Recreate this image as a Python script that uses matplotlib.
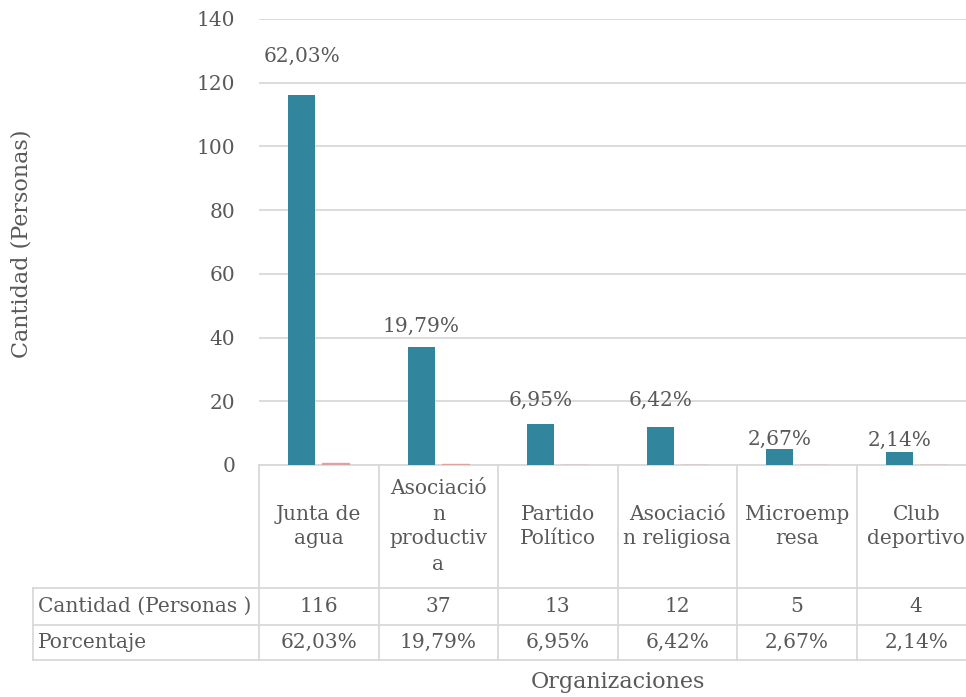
import numpy as np
import matplotlib.pyplot as plt
import matplotlib.transforms as mtransforms

categories = ["Junta de\nagua", "Asociació\nn\nproductiv\na", "Partido\nPolítico",
              "Asociació\nn religiosa", "Microemp\nresa", "Club\ndeportivo"]
cantidad = [116, 37, 13, 12, 5, 4]
porcentaje = [0.6203, 0.1979, 0.0695, 0.0642, 0.0267, 0.0214]
pct_labels = ["62,03%", "19,79%", "6,95%", "6,42%", "2,67%", "2,14%"]
label_offsets = [39, 21, 23, 26, 10, 12]   # pixels from bar top to label centre

plt.rcParams['font.family'] = ['DejaVu Serif']
TEXT = "#595959"
GRID = "#d9d9d9"
TEAL = "#31859c"
PINK = "#dca3a1"
FS = 14.5

fig = plt.figure(figsize=(9.66, 6.97), dpi=100)
W, H = 966, 697
ax = fig.add_axes([259 / W, 1 - 465 / H, 707 / W, 446 / H])

col_w = 119.5
x = np.arange(len(categories))
off = 17 / col_w
bw = 27 / col_w
ax.bar(x - off, cantidad, bw, color=TEAL, zorder=3)
ax.bar(x + off, porcentaje, bw, color=PINK, edgecolor=PINK, lw=1, zorder=3)

for i in range(len(categories)):
    ax.annotate(pct_labels[i], (x[i] - off, cantidad[i]), xytext=(0, label_offsets[i]),
                textcoords="offset pixels", ha="center", va="center",
                fontsize=FS, color=TEXT)

ax.set_xlim(-0.5, -0.5 + 707 / col_w)
ax.set_ylim(0, 140)
ax.set_yticks(range(0, 141, 20))
ax.yaxis.grid(True, color=GRID, lw=1.3, zorder=0)
ax.tick_params(axis="y", length=0, labelsize=FS, labelcolor=TEXT, pad=17)
ax.set_xticks([])
for s in ["top", "right", "left"]:
    ax.spines[s].set_visible(False)
ax.spines["bottom"].set_color(GRID)
ax.spines["bottom"].set_linewidth(1.3)
fig.text(22 / W, 1 - 244 / H, "Cantidad (Personas)", rotation=90, ha="center", va="center",
         fontsize=16, color=TEXT)

# data table below the axis
tr = mtransforms.blended_transform_factory(ax.transData, fig.transFigure)
y_top = 1 - 465 / H
y_r1 = 1 - 588 / H
y_r2 = 1 - 625 / H
y_r3 = 1 - 660 / H
x_left = 33 / W
for b in np.arange(len(categories) + 1) - 0.5:
    fig.add_artist(plt.Line2D([b, b], [y_r3, y_top], transform=tr, color=GRID, lw=1.3))
for yy in [y_r1, y_r2, y_r3]:
    fig.add_artist(plt.Line2D([x_left, 1], [yy, yy], transform=fig.transFigure, color=GRID, lw=1.3))
fig.add_artist(plt.Line2D([x_left, x_left], [y_r3, y_r1], transform=fig.transFigure, color=GRID, lw=1.3))

for i, c in enumerate(categories):
    fig.text(x[i], (y_top + y_r1) / 2, c, transform=tr, ha="center", va="center",
             fontsize=FS, color=TEXT, linespacing=1.4)
    fig.text(x[i], (y_r1 + y_r2) / 2, str(cantidad[i]), transform=tr, ha="center",
             va="center", fontsize=FS, color=TEXT)
    fig.text(x[i], (y_r2 + y_r3) / 2, pct_labels[i], transform=tr, ha="center",
             va="center", fontsize=FS, color=TEXT)
fig.text(x_left + 5 / W, (y_r1 + y_r2) / 2, "Cantidad (Personas )", ha="left", va="center",
         fontsize=FS, color=TEXT)
fig.text(x_left + 5 / W, (y_r2 + y_r3) / 2, "Porcentaje", ha="left", va="center",
         fontsize=FS, color=TEXT)
fig.text(618 / W, 1 - 682 / H, "Organizaciones", ha="center", va="center",
         fontsize=16, color=TEXT)

fig.savefig("out.png", dpi=100)
